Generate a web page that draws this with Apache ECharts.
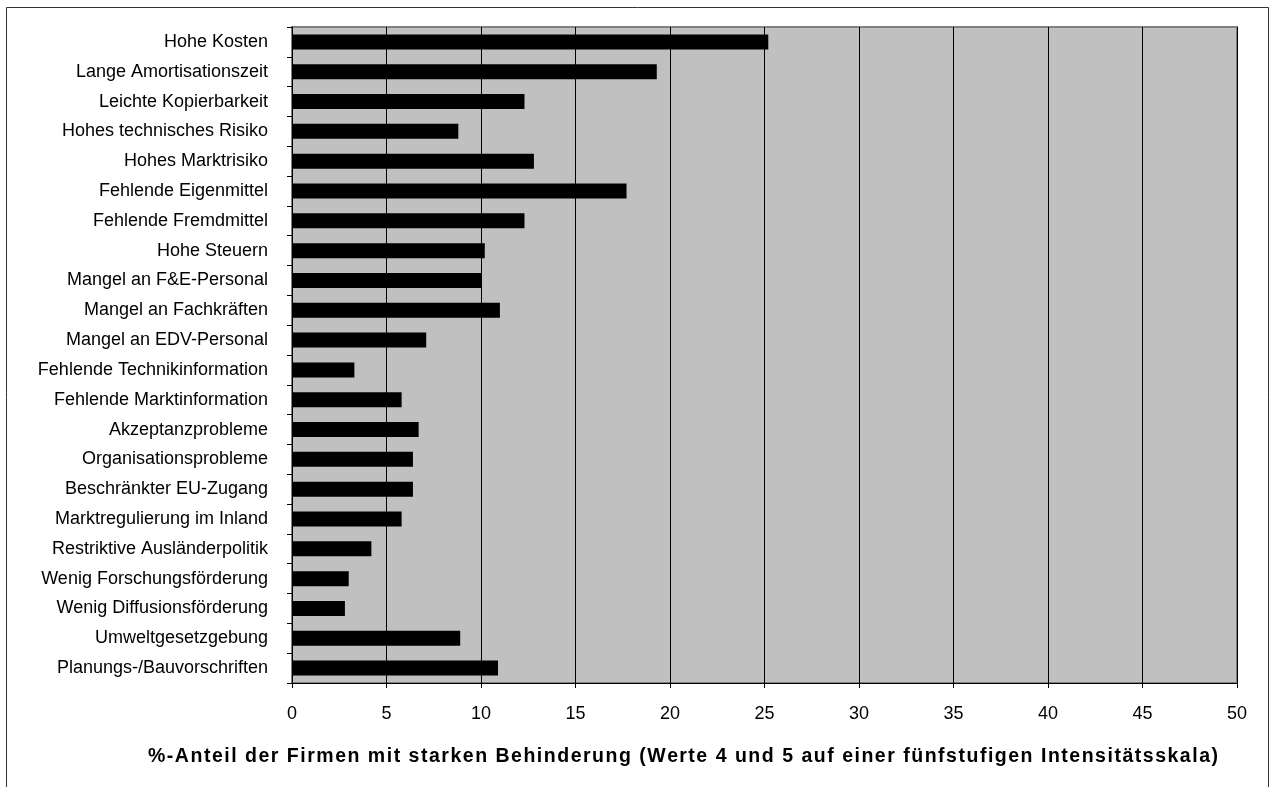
<!DOCTYPE html>
<html>
<head>
<meta charset="utf-8">
<script src="https://cdn.jsdelivr.net/npm/echarts@6/dist/echarts.min.js"></script>
<style>
  html, body { margin: 0; padding: 0; background: #fff; }
  #chart { width: 1270px; height: 787px; }
</style>
</head>
<body>
<div id="chart"></div>
<script>
// Innovationshemmnisse: Anteil der Firmen mit starker Behinderung (%)
const categories = [
  'Hohe Kosten',
  'Lange Amortisationszeit',
  'Leichte Kopierbarkeit',
  'Hohes technisches Risiko',
  'Hohes Marktrisiko',
  'Fehlende Eigenmittel',
  'Fehlende Fremdmittel',
  'Hohe Steuern',
  'Mangel an F&E-Personal',
  'Mangel an Fachkräften',
  'Mangel an EDV-Personal',
  'Fehlende Technikinformation',
  'Fehlende Marktinformation',
  'Akzeptanzprobleme',
  'Organisationsprobleme',
  'Beschränkter EU-Zugang',
  'Marktregulierung im Inland',
  'Restriktive Ausländerpolitik',
  'Wenig Forschungsförderung',
  'Wenig Diffusionsförderung',
  'Umweltgesetzgebung',
  'Planungs-/Bauvorschriften'
];

const shares = [
  25.2, 19.3, 12.3, 8.8, 12.8, 17.7, 12.3, 10.2, 10.0, 11.0, 7.1,
  3.3, 5.8, 6.7, 6.4, 6.4, 5.8, 4.2, 3.0, 2.8, 8.9, 10.9
];

const xTicks = [0, 5, 10, 15, 20, 25, 30, 35, 40, 45, 50];

const axisTitle = '%-Anteil der Firmen mit starken Behinderung (Werte 4 und 5 auf einer fünfstufigen Intensitätsskala)';

const fontFamily = '"Liberation Sans", Arial, sans-serif';

// Axis title is drawn letter by letter so it can be tracked out to a fixed width.
function trackedText(text, font, left, right, y) {
  const ctx = document.createElement('canvas').getContext('2d');
  ctx.font = font;
  const natural = ctx.measureText(text).width;
  const gap = (right - left - natural) / (text.length - 1);
  const items = [];
  for (let i = 0; i < text.length; i++) {
    const ch = text[i];
    if (ch === ' ') continue;
    const offset = ctx.measureText(text.slice(0, i)).width + i * gap;
    items.push({
      type: 'text',
      x: left + offset,
      y: y,
      style: {
        text: ch,
        fill: '#000',
        font: font,
        textAlign: 'left',
        textVerticalAlign: 'middle'
      },
      silent: true
    });
  }
  return { type: 'group', children: items };
}

const chart = echarts.init(document.getElementById('chart'), null, { renderer: 'canvas' });

chart.setOption({
  animation: false,
  backgroundColor: '#ffffff',
  grid: {
    left: 292,
    top: 27,
    right: 33,
    bottom: 104,
    show: true,
    backgroundColor: '#C0C0C0',
    borderColor: '#808080',
    borderWidth: 2
  },
  xAxis: {
    type: 'value',
    min: xTicks[0],
    max: xTicks[xTicks.length - 1],
    interval: xTicks[1] - xTicks[0],
    axisLine: { show: true, onZero: false, lineStyle: { color: '#000', width: 1 } },
    axisTick: { show: true, length: 5, lineStyle: { color: '#000' } },
    axisLabel: {
      margin: 22,
      color: '#000',
      fontSize: 18,
      fontFamily: fontFamily
    },
    splitLine: { show: true, lineStyle: { color: '#000', width: 1 } }
  },
  yAxis: {
    type: 'category',
    data: categories,
    inverse: true,
    axisLine: { show: true, lineStyle: { color: '#000', width: 1 } },
    axisTick: { show: true, length: 5, inside: false, lineStyle: { color: '#000' } },
    axisLabel: {
      margin: 24,
      color: '#000',
      fontSize: 18,
      fontFamily: fontFamily
    },
    splitLine: { show: false }
  },
  series: [{
    type: 'bar',
    data: shares,
    barWidth: 15,
    itemStyle: { color: '#000000' },
    silent: true
  }],
  graphic: [
    {
      type: 'rect',
      shape: { x: 6.5, y: 7.5, width: 1262, height: 800 },
      style: { fill: 'none', stroke: '#333', lineWidth: 1 },
      silent: true,
      z: -1
    },
    trackedText(axisTitle, 'bold 19.5px ' + fontFamily, 148, 1218, 757)
  ]
});
</script>
</body>
</html>
